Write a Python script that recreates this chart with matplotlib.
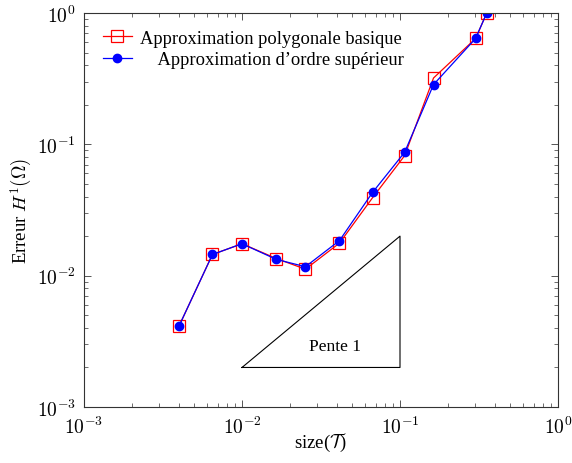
import matplotlib
matplotlib.use("Agg")
import matplotlib.pyplot as plt
import numpy as np
from matplotlib.ticker import LogLocator, NullFormatter, FuncFormatter

plt.rcParams['font.family'] = ['Liberation Serif', 'DejaVu Serif']
plt.rcParams['mathtext.fontset'] = 'cm'

h = [0.004, 0.0065, 0.010, 0.0165, 0.0252, 0.0414, 0.067, 0.107, 0.163, 0.301, 0.354]
err_basic = [0.00415, 0.0145, 0.0175, 0.0135, 0.0112, 0.0177, 0.0392, 0.0820, 0.320, 0.640, 1.0]
err_high = [0.00415, 0.0145, 0.0175, 0.0133, 0.0117, 0.0185, 0.0430, 0.0870, 0.285, 0.640, 1.0]

tri_x = [0.01, 0.1, 0.1, 0.01]
tri_y = [0.002, 0.002, 0.02, 0.002]

fig = plt.figure(figsize=(5.72, 4.64), dpi=100)
ax = fig.add_axes([84/572, 1 - 408/464, (558-84)/572, (408-14)/464])

ax.plot(h, err_basic, color='red', lw=0.9, marker='s', markersize=8.5,
        markerfacecolor='none', markeredgecolor='red', markeredgewidth=0.9,
        label='Approximation polygonale basique')
ax.plot(h, err_high, color='blue', lw=0.9, marker='o', markersize=6,
        markerfacecolor='blue', markeredgecolor='blue',
        label='    Approximation d\u2019ordre supérieur')
ax.plot(tri_x, tri_y, color='black', lw=0.8)
ax.text(0.039, 0.0029, 'Pente 1', ha='center', va='center', fontsize=12.5)

ax.set_xscale('log')
ax.set_yscale('log')
ax.set_xlim(1e-3, 1)
ax.set_ylim(1e-3, 1)
fmt = FuncFormatter(lambda v, p: r'$10^{%d}$' % int(round(np.log10(v))))
for axis in (ax.xaxis, ax.yaxis):
    axis.set_major_locator(LogLocator(base=10, numticks=10))
    axis.set_major_formatter(fmt)
    axis.set_minor_locator(LogLocator(base=10, subs=range(2, 10), numticks=20))
    axis.set_minor_formatter(NullFormatter())
ax.tick_params(which='both', direction='in', top=True, right=True, labelsize=14)
ax.tick_params(axis='x', which='major', pad=6)
ax.tick_params(axis='y', which='major', pad=6)
ax.tick_params(which='major', length=5, width=0.7, color='#555555')
ax.tick_params(which='minor', length=3, width=0.6, color='#555555')
for s in ax.spines.values():
    s.set_linewidth(0.8)
    s.set_color('#333333')

ax.set_xlabel(r'size($\mathcal{T}$)', fontsize=13.5, labelpad=-4)
ax.set_ylabel(r'Erreur $H^1(\Omega)$', fontsize=13.5, labelpad=2)

ax.legend(loc='upper left', frameon=False, fontsize=13.3, handlelength=1.6,
          bbox_to_anchor=(0.012, 0.99), borderaxespad=0.3, handletextpad=0.4,
          labelspacing=0.25)

fig.savefig('out.png', dpi=100)
